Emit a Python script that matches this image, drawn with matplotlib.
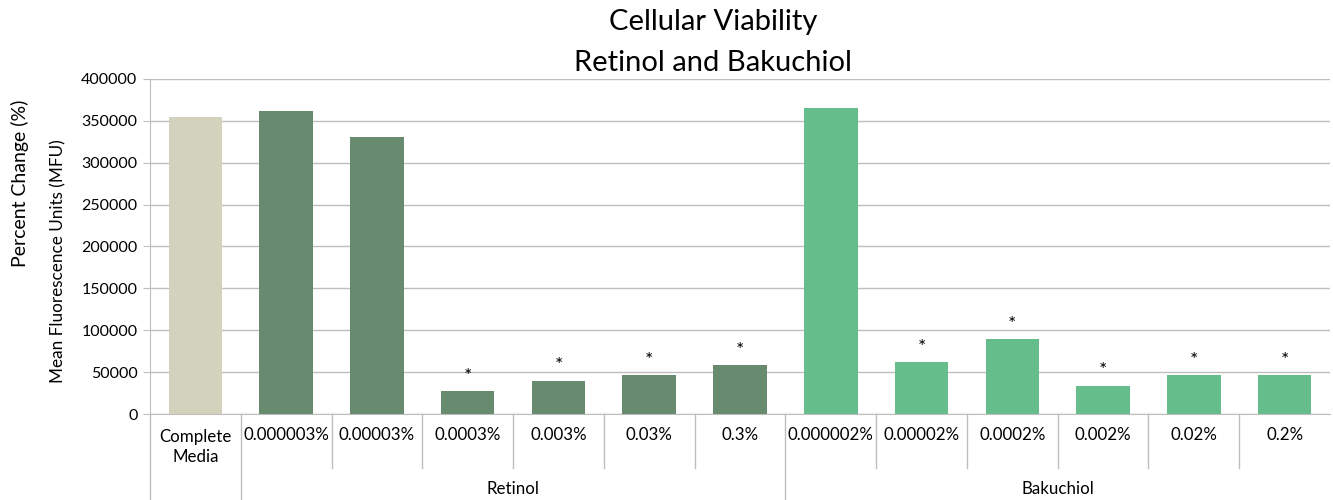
import numpy as np
import matplotlib
matplotlib.use("Agg")
import matplotlib.pyplot as plt
from matplotlib.transforms import blended_transform_factory

plt.rcParams['font.family'] = ['Lato', 'DejaVu Sans']

# data
concentrations = ["Complete\nMedia",
                  "0.000003%", "0.00003%", "0.0003%", "0.003%", "0.03%", "0.3%",
                  "0.000002%", "0.00002%", "0.0002%", "0.002%", "0.02%", "0.2%"]
groups = ["Retinol", "Bakuchiol"]
group_sizes = [6, 6]
mfu = [355000,
       362000, 331000, 27000, 40000, 46000, 58000,
       365000, 62000, 89000, 34000, 46000, 46000]
significant = [False,
               False, False, True, True, True, True,
               False, True, True, True, True, True]

col_media = "#D3D2BC"
col_retinol = "#688A6E"
col_baku = "#64BD8B"
colors = [col_media] + [col_retinol] * 6 + [col_baku] * 6

fig = plt.figure(figsize=(13.33, 5.0), dpi=100)
ax = fig.add_axes([150 / 1333, 86 / 500, 1180 / 1333, 335 / 500])

x = np.arange(len(mfu))
ax.bar(x, mfu, width=0.59, color=colors, zorder=3)

# significance stars
for xi, v, s in zip(x, mfu, significant):
    if s:
        ax.annotate("*", (xi, v), xytext=(0, 15), textcoords="offset pixels",
                    ha="center", va="center", fontsize=14, color="#000000")

ax.set_xlim(-0.5, len(mfu) - 0.5)
ax.set_ylim(0, 400000)
ax.set_yticks(np.arange(0, 400001, 50000))
ax.yaxis.grid(True, color="#BEBEBE", linewidth=1.0, zorder=0)
ax.tick_params(axis="y", length=5, color="#BEBEBE", labelsize=11.5, pad=4)
ax.set_xticks([])
for s in ["top", "right"]:
    ax.spines[s].set_visible(False)
ax.spines["left"].set_color("#BEBEBE")
ax.spines["bottom"].set_color("#BEBEBE")

# multi-level category axis
tr = blended_transform_factory(ax.transData, ax.transAxes)
line_kw = dict(color="#BEBEBE", linewidth=1.0, clip_on=False, transform=tr)
for i, lab in enumerate(concentrations):
    y = -0.063 if "\n" not in lab else -0.098
    ax.text(i, y, lab, transform=tr, ha="center", va="center", fontsize=12.2,
            linespacing=1.3)
inner_y = -0.161
outer_y = -0.257
ax.plot([-0.5, -0.5], [0, outer_y], **line_kw)
ax.plot([0.5, 0.5], [0, outer_y], **line_kw)
start = 1
for g, n in zip(groups, group_sizes):
    for k in range(1, n):
        xb = start + k - 0.5
        ax.plot([xb, xb], [0, inner_y], **line_kw)
    end = start + n - 0.5
    if start + n < len(mfu):
        ax.plot([end, end], [0, outer_y], **line_kw)
    ax.text(start + (n - 1) / 2, -0.224, g, transform=tr, ha="center",
            va="center", fontsize=12.2)
    start += n

# axis titles
fig.text(20 / 1333, 1 - 183 / 500, "Percent Change (%)", rotation=90,
         ha="center", va="center", fontsize=14)
fig.text(58 / 1333, 1 - 261 / 500, "Mean Fluorescence Units (MFU)", rotation=90,
         ha="center", va="center", fontsize=12.3)

# chart title
fig.text(713 / 1333, 1 - 22 / 500, "Cellular Viability", ha="center", va="center",
         fontsize=21)
fig.text(713 / 1333, 1 - 63 / 500, "Retinol and Bakuchiol", ha="center",
         va="center", fontsize=21)

fig.savefig("out.png", dpi=100)
